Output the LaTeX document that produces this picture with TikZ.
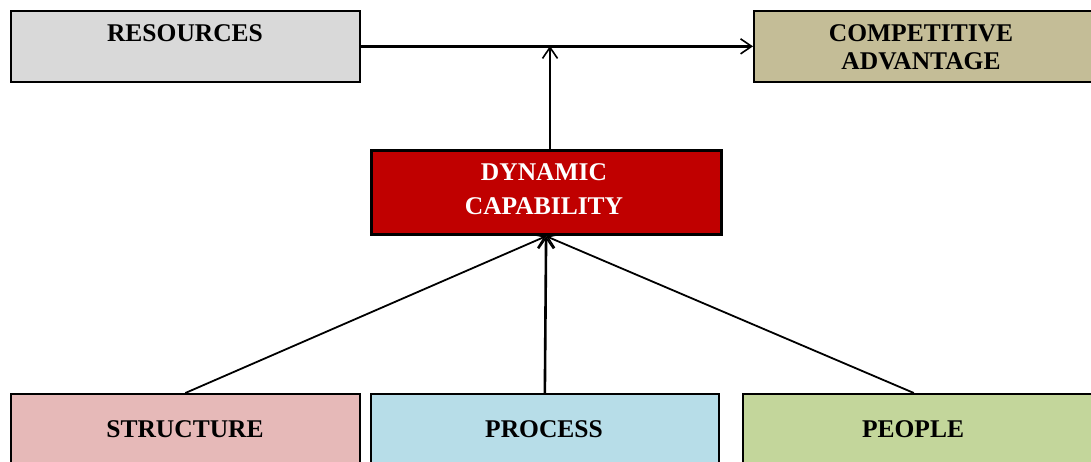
\documentclass[tikz,border=0pt]{standalone}
\usepackage{fontspec}
\setmainfont{Liberation Serif}
\usetikzlibrary{arrows.meta,positioning}
\definecolor{resgray}{RGB}{217,217,217}
\definecolor{advtan}{RGB}{196,189,151}
\definecolor{dynred}{RGB}{192,0,0}
\definecolor{strpink}{RGB}{230,185,184}
\definecolor{procblue}{RGB}{183,221,232}
\definecolor{peogreen}{RGB}{195,214,155}
\begin{document}
\begin{tikzpicture}[x=1pt,y=-1pt,
  box/.style={draw=black, line width=1.7pt, inner sep=0pt, anchor=north west},
  lbl/.style={font=\fontsize{25.5}{28}\selectfont\bfseries, align=center, inner sep=0pt},
  arr/.style={line width=2.6pt, -{Straight Barb[length=11pt,width=15pt,line width=1.6pt]}},
  thinarr/.style={line width=1.8pt, -{Straight Barb[length=11pt,width=15pt,line width=1.6pt]}}]
\useasboundingbox (0,0) rectangle (1091,462);
\clip (0,0) rectangle (1091,462);

% top row
\node[box, fill=resgray, minimum width=349pt, minimum height=71pt] (res) at (10,10) {};
\node[box, fill=advtan, minimum width=340pt, minimum height=71pt] (comp) at (753,10) {};
\node[lbl] (res-t) at (185,33) {RESOURCES};
\node[lbl] (comp-t) at (921,47) {COMPETITIVE\\ADVANTAGE};

% middle
\node[box, fill=dynred, line width=3.2pt, minimum width=350pt, minimum height=84pt] (dyn) at (369.5,149) {};
\node[lbl, text=white, font=\fontsize{25.5}{34}\selectfont\bfseries] (dyn-t) at (544,189) {DYNAMIC\\CAPABILITY};

% bottom row
\node[box, fill=strpink, minimum width=349pt, minimum height=90pt] (str) at (10,393) {};
\node[box, fill=procblue, minimum width=348pt, minimum height=90pt] (proc) at (370,393) {};
\node[box, fill=peogreen, minimum width=350pt, minimum height=90pt] (peo) at (742,393) {};
\node[lbl] (str-t) at (185,429) {STRUCTURE};
\node[lbl] (proc-t) at (544,429) {PROCESS};
\node[lbl] (peo-t) at (913,429) {PEOPLE};

% connectors
\coordinate (join) at (550,46);
\draw[arr] (res) -- (comp);
\draw[thinarr] (join |- dyn.north) -- (join);
\draw[thinarr] (str.north) -- (dyn.south);
\draw[arr] (proc.north) -- (dyn.south);
\draw[thinarr] ([xshift=-4pt]peo.north) -- (dyn.south);

\end{tikzpicture}
\end{document}
